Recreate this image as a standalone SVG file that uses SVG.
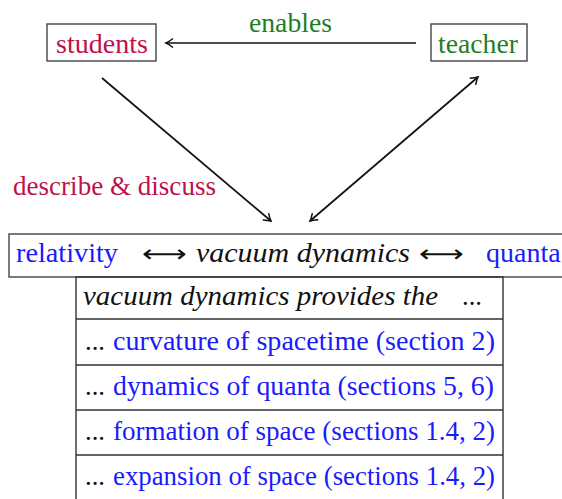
<svg xmlns="http://www.w3.org/2000/svg" width="562" height="499" viewBox="0 0 562 499" font-family="'Liberation Serif', 'Times New Roman', Tinos, 'Noto Serif', 'DejaVu Serif', serif">
<style>
text{font-family:'Liberation Serif','Times New Roman',Tinos,'Noto Serif','DejaVu Serif',serif;font-size:28px}
.it{font-style:italic}
.crim{fill:#c0104a}
.grn{fill:#1f7f1f}
.blu{fill:#1a1aff}
.blk{fill:#111}
.box{fill:#fff;stroke:#444;stroke-width:1.4}
.cell{fill:none;stroke:#333;stroke-width:1.4}
.con{stroke:#111;stroke-width:1.7;fill:none}
text.sym{font-family:'DejaVu Sans',sans-serif;font-size:24px}
</style>
<defs>
<marker id="ah" viewBox="-8 -6 10 12" refX="0" refY="0" markerWidth="10" markerHeight="12" markerUnits="userSpaceOnUse" orient="auto-start-reverse">
<path d="M-7,-4.5 Q-2.5,-1 0,0 Q-2.5,1 -7,4.5" fill="none" stroke="#111" stroke-width="1.5"/>
</marker>
</defs>
<rect width="562" height="499" fill="#fff"/>
<g id="connectors">
<line class="con" x1="416" y1="43" x2="166" y2="43" marker-end="url(#ah)"/>
<line class="con" x1="102" y1="78" x2="271" y2="221" marker-end="url(#ah)"/>
<line class="con" x1="310" y1="221" x2="478" y2="77" marker-start="url(#ah)" marker-end="url(#ah)"/>
<text class="grn" x="249" y="32" textLength="83" lengthAdjust="spacingAndGlyphs">enables</text>
<text class="crim" x="13" y="195" textLength="203" lengthAdjust="spacingAndGlyphs">describe &amp; discuss</text>
</g>
<g id="students">
<rect class="box" x="47" y="24" width="109" height="37"/>
<text class="crim" x="56" y="53" textLength="92" lengthAdjust="spacingAndGlyphs">students</text>
</g>
<g id="teacher">
<rect class="box" x="431" y="24" width="96" height="37"/>
<text class="grn" x="438" y="53" textLength="80" lengthAdjust="spacingAndGlyphs">teacher</text>
</g>
<g id="header">
<rect class="box" x="9" y="234" width="570" height="43"/>
<text class="blu" x="16" y="262" textLength="102" lengthAdjust="spacingAndGlyphs">relativity</text>
<text class="sym blk" x="142" y="262" textLength="45" lengthAdjust="spacingAndGlyphs">⟷</text>
<text class="it blk" x="196" y="262" textLength="214" lengthAdjust="spacingAndGlyphs">vacuum  dynamics</text>
<text class="sym blk" x="419" y="262" textLength="45" lengthAdjust="spacingAndGlyphs">⟷</text>
<text class="blu" x="486" y="262">quanta</text>
</g>
<g id="table">
<rect class="cell" x="76" y="277" width="427" height="230"/>
<line class="cell" x1="76" y1="319" x2="503" y2="319"/>
<line class="cell" x1="76" y1="365" x2="503" y2="365"/>
<line class="cell" x1="76" y1="410" x2="503" y2="410"/>
<line class="cell" x1="76" y1="455" x2="503" y2="455"/>
<text class="it blk" x="83" y="305" textLength="355" lengthAdjust="spacingAndGlyphs">vacuum dynamics provides the</text>
<text class="blk" x="462" y="305" textLength="20" lengthAdjust="spacingAndGlyphs">...</text>
<text class="blk" x="85" y="350" textLength="20" lengthAdjust="spacingAndGlyphs">...</text>
<text class="blu" x="113" y="350" textLength="382" lengthAdjust="spacingAndGlyphs">curvature of spacetime (section  2)</text>
<text class="blk" x="85" y="395" textLength="20" lengthAdjust="spacingAndGlyphs">...</text>
<text class="blu" x="113" y="395" textLength="381" lengthAdjust="spacingAndGlyphs">dynamics of quanta (sections  5, 6)</text>
<text class="blk" x="85" y="440" textLength="20" lengthAdjust="spacingAndGlyphs">...</text>
<text class="blu" x="113" y="440" textLength="382" lengthAdjust="spacingAndGlyphs">formation of space (sections 1.4, 2)</text>
<text class="blk" x="85" y="485" textLength="20" lengthAdjust="spacingAndGlyphs">...</text>
<text class="blu" x="113" y="485" textLength="382" lengthAdjust="spacingAndGlyphs">expansion of space (sections 1.4, 2)</text>
</g>
</svg>
